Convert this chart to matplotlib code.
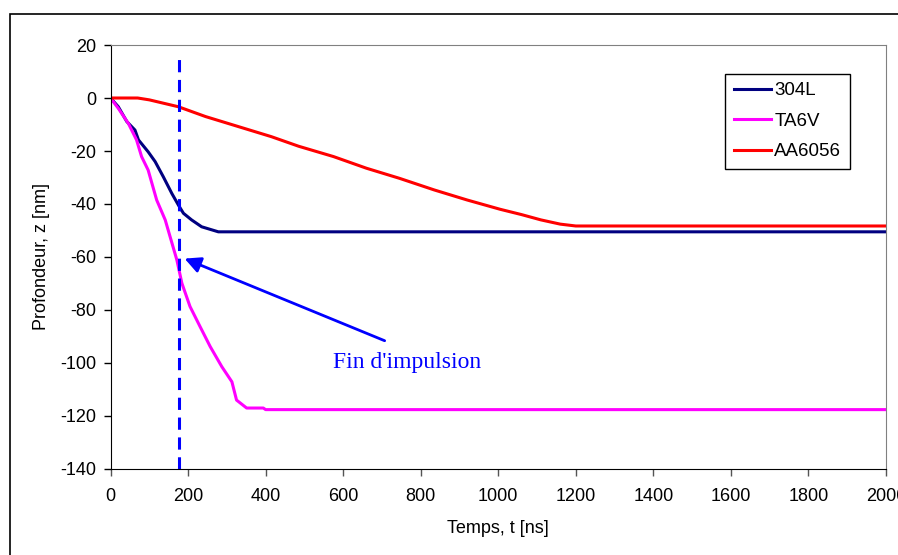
import matplotlib
matplotlib.use('Agg')
from matplotlib import pyplot as plt
from matplotlib.patches import Rectangle

plt.rcParams['font.family'] = ['Liberation Sans', 'DejaVu Sans']
plt.rcParams['axes.unicode_minus'] = False

# 304L
t_304l = [0, 20, 42, 63, 72, 97, 115, 136, 158, 175, 188, 209, 235, 278, 2000]
z_304l = [0, -3.3, -8.9, -12.1, -15.8, -20.3, -24.0, -29.7, -36.0, -40.4, -43.5, -46.0, -48.6, -50.5, -50.5]

# TA6V
t_ta6v = [0, 20, 46, 67, 80, 97, 119, 141, 171, 184, 205, 231, 257, 287, 313, 325, 351, 394, 400, 2000]
z_ta6v = [0, -3.9, -9.6, -15.8, -22.1, -27.2, -38.5, -46.0, -61.1, -69.9, -78.7, -86.3, -93.8, -101.4, -107.1, -114.0, -117.0, -117.0, -117.6, -117.6]

# AA6056
t_aa = [0, 70, 100, 175, 245, 330, 415, 485, 575, 660, 745, 835, 920, 1005, 1060, 1110, 1160, 1200, 2000]
z_aa = [0, 0, -0.7, -3.3, -7.0, -10.8, -14.6, -18.2, -22.1, -26.5, -30.3, -34.7, -38.5, -42.0, -44.0, -46.0, -47.6, -48.3, -48.3]

pulse_end = 177
arrow_tip = (191, -60.6)
arrow_tail = (707, -91.6)

fig = plt.figure(figsize=(8.98, 5.55), dpi=100)
ax = fig.add_axes([0.1231, 0.155, 0.8635, 0.7639])

# cadre exterieur
fig.patches.append(Rectangle((9.5 / 898, -0.2), 1.5, 1.2 - 13.5 / 555,
                             transform=fig.transFigure, fill=False,
                             ec='black', lw=1.2))

ax.plot(t_304l, z_304l, color='#000080', lw=2.2, label='304L')
ax.plot(t_ta6v, z_ta6v, color='#FF00FF', lw=2.2, label='TA6V')
ax.plot(t_aa, z_aa, color='#FF0000', lw=2.2, label='AA6056')

ax.plot([pulse_end, pulse_end], [-140, 17.5], color='#0000FF', lw=2.2,
        dashes=(4, 2.5), clip_on=False)

ax.annotate('', xy=arrow_tip, xytext=arrow_tail,
            arrowprops=dict(arrowstyle='-|>', color='#0000FF', lw=2,
                            mutation_scale=24, shrinkA=0, shrinkB=0))
ax.text(766, -100, "Fin d'impulsion", color='#0000FF', fontsize=17,
        family=['Liberation Serif', 'DejaVu Serif'], ha='center', va='center')

ax.set_xlim(0, 2000)
ax.set_ylim(-140, 20)
ax.set_xticks(range(0, 2001, 200))
ax.set_yticks(range(-140, 21, 20))
ax.tick_params(direction='out', length=5, width=1, labelsize=13, colors='black')
ax.tick_params(axis='x', color='#555555', pad=9)
ax.tick_params(axis='y', pad=5.5)
for s in ['top', 'right']:
    ax.spines[s].set_color('#808080')
for s in ['left', 'bottom']:
    ax.spines[s].set_color('black')

ax.set_xlabel('Temps, t [ns]', fontsize=13)
ax.set_ylabel('Profondeur, z [nm]', fontsize=13)
ax.xaxis.set_label_coords(0.5, -0.12)
ax.yaxis.set_label_coords(-0.078, 0.502)

leg = ax.legend(loc='upper left', bbox_to_anchor=(0.793, 0.9325), fontsize=13.5,
                frameon=True, fancybox=False, edgecolor='black', framealpha=1,
                handlelength=2.0, handletextpad=0.15, labelspacing=0.71,
                borderpad=0.45, borderaxespad=0)
leg.get_frame().set_linewidth(1.0)

fig.savefig('out.png', dpi=100)
